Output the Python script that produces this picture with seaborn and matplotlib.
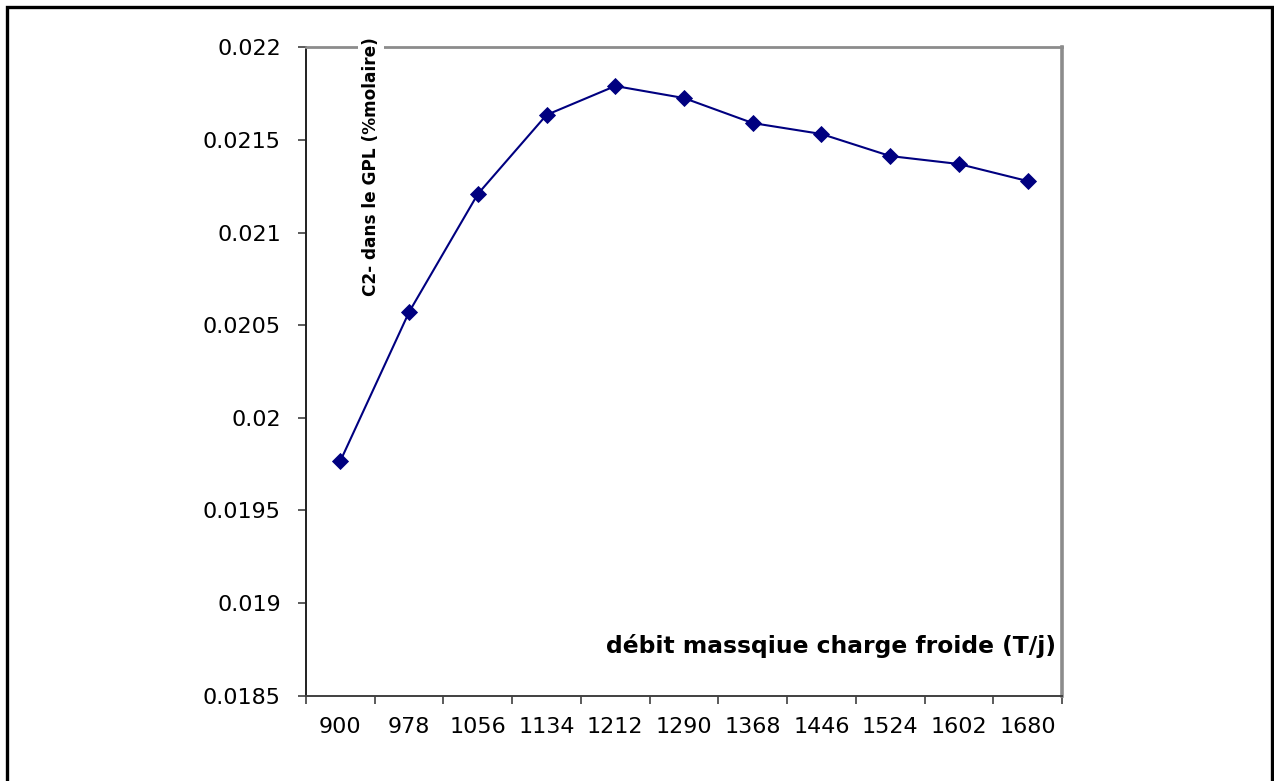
import numpy as np
import pandas as pd
import matplotlib
matplotlib.use("Agg")
import matplotlib.pyplot as plt
from matplotlib.lines import Line2D
from matplotlib.ticker import FixedLocator
import seaborn as sns

# Cold-feed mass flow (T/j) and C2- content in the LPG (% molar)
debit = [900, 978, 1056, 1134, 1212, 1290, 1368, 1446, 1524, 1602, 1680]
c2_gpl = [0.019767, 0.020571, 0.021208, 0.021635, 0.021791, 0.021726,
          0.021591, 0.021532, 0.021413, 0.021370, 0.021278]

y_ticks = [0.0185, 0.019, 0.0195, 0.02, 0.0205, 0.021, 0.0215, 0.022]
y_tick_labels = ["0.0185", "0.019", "0.0195", "0.02", "0.0205", "0.021", "0.0215", "0.022"]

x_title = "débit massqiue charge froide (T/j)"
y_title = "C2- dans le GPL (%molaire)"

df = pd.DataFrame({"debit": [str(d) for d in debit], "c2": c2_gpl})

sns.set_style("white")
plt.rcParams["font.family"] = ["DejaVu Sans"]

fig = plt.figure(figsize=(12.74, 7.81), dpi=100)
ax = fig.add_axes([306 / 1274, 1 - 695.7 / 781, (1062 - 306) / 1274, (695.7 - 47.3) / 781])

sns.pointplot(data=df, x="debit", y="c2", order=[str(d) for d in debit],
              color="#000080", markers="D", linestyles="-",
              linewidth=1.5, markersize=8.5, markeredgewidth=0.6, ax=ax)

ax.set_xlim(-0.5, len(debit) - 0.5)
ax.set_ylim(0.0185, 0.022)
ax.set_yticks(y_ticks)
ax.set_yticklabels(y_tick_labels)
ax.set_xlabel("")
ax.set_ylabel("")

# category labels centred, tick marks on category boundaries
ax.xaxis.set_minor_locator(FixedLocator(np.arange(-0.5, len(debit), 1.0)))
ax.tick_params(axis="x", which="major", length=0, pad=15, labelsize=16, labelcolor="black")
ax.tick_params(axis="x", which="minor", length=6, width=1.2, color="#404040", direction="out", bottom=True)
ax.tick_params(axis="y", which="major", length=6, width=1.2, color="#404040", direction="out",
               left=True, pad=12, labelsize=16, labelcolor="black")

for side in ["top", "right"]:
    ax.spines[side].set_color("#8c8c8c")
    ax.spines[side].set_linewidth(2.0)
ax.spines["right"].set_linewidth(2.6)
ax.spines["left"].set_color("#202020")
ax.spines["left"].set_linewidth(1.4)
ax.spines["bottom"].set_color("#404040")
ax.spines["bottom"].set_linewidth(1.4)
ax.grid(False)

# axis titles placed inside the plot area
fig.text(1056 / 1274, 1 - 646 / 781, x_title, ha="right", va="center",
         fontsize=16.8, fontweight="bold", color="black")
fig.text(371 / 1274, 1 - 167 / 781, y_title, ha="center", va="center", rotation=90,
         fontsize=12.2, fontweight="bold", color="black",
         bbox=dict(facecolor="white", edgecolor="none", pad=3), zorder=10)

# outer frame (open at the bottom)
W, H = 1274, 781
frame_pts = [(7, 790), (7, 7), (1272, 7), (1272, 790)]
fx = [p[0] / W for p in frame_pts]
fy = [1 - p[1] / H for p in frame_pts]
fig.add_artist(Line2D(fx, fy, transform=fig.transFigure, color="black", linewidth=2.4,
                      solid_joinstyle="miter"))

fig.savefig("out.png", dpi=100, facecolor="white")
